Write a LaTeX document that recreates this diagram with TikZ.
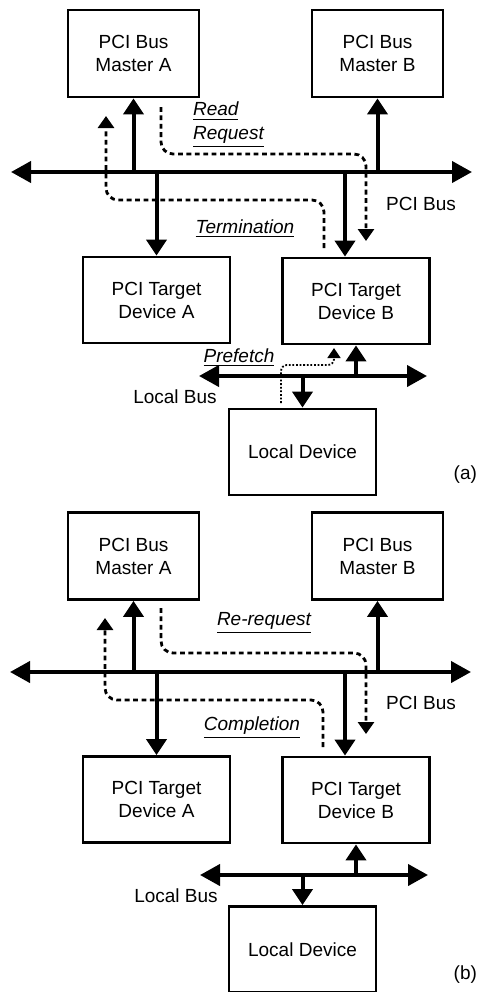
\documentclass[tikz,border=0pt]{standalone}
\usepackage{fontspec}
\setmainfont{Liberation Sans}
\usetikzlibrary{arrows.meta}

\tikzset{
    box/.style={draw, line width=1.4pt, align=center, inner sep=0pt,
        font=\fontsize{9.5}{11.5}\selectfont},
    master/.style={box, minimum width=65.5pt, minimum height=43.5pt},
    target/.style={box, minimum width=73.5pt, minimum height=43pt},
    bus/.style={line width=2pt, {Triangle[length=10pt,width=10.5pt]}-{Triangle[length=10pt,width=10.5pt]}},
    conn/.style={line width=2pt, -{Triangle[length=8pt,width=10pt]}},
    req/.style={line width=1.4pt, dash pattern=on 2.4pt off 1.8pt, rounded corners=6pt,
        -{Triangle[length=6pt,width=8pt]}},
    pref/.style={line width=0.9pt, dash pattern=on 0.9pt off 0.9pt, rounded corners=3pt,
        -{Triangle[length=5pt,width=6.5pt]}},
    txt/.style={font=\fontsize{9.5}{11.5}\selectfont},
    lbl/.style={font=\fontsize{9.5}{12}\selectfont\itshape, align=left}
}

\begin{document}
\begin{tikzpicture}[x=0.5pt, y=-0.5pt]
\useasboundingbox (0,0) rectangle (484,992);

% (a)
\node[master] (mAa) at (133.5,53.5) {PCI Bus\\Master A};
\node[master] (mBa) at (377.5,53.5) {PCI Bus\\Master B};
\node[target] (tAa) at (156.5,300) {PCI Target\\Device A};
\node[target] (tBa) at (356,301) {PCI Target\\Device B};
\node[target] (lda) at (302.5,452) {Local Device};

\coordinate (pciWa) at (11,172);
\coordinate (pciEa) at (472,172);
\coordinate (locWa) at (199,376);
\coordinate (locEa) at (427,376);
\draw[bus] (pciWa) -- (pciEa);
\draw[bus] (locWa) -- (locEa);

\draw[conn] (mAa.south |- pciWa) -- (mAa.south);
\draw[conn] (mBa.south |- pciWa) -- (mBa.south);
\draw[conn] (tAa.north |- pciWa) -- (tAa.north);
\draw[conn] ([xshift=-5.5pt]tBa.north |- pciWa) -- ([xshift=-5.5pt]tBa.north);
\draw[conn] (tBa.south |- locWa) -- (tBa.south);
\draw[conn] (lda.north |- locWa) -- (lda.north);

\coordinate (rqSa) at (161,107);
\coordinate (rqEa) at (366,241);
\coordinate (tmSa) at (324,248);
\coordinate (tmEa) at (106,116);
\coordinate (pfSa) at (281,403);
\coordinate (pfEa) at (334,348);
\draw[req] (rqSa) -- ++(0,47) -| (rqEa);
\draw[req] (tmSa) -- ++(0,-48) -| (tmEa);
\draw[pref] (pfSa) -- ++(0,-38) -| (pfEa);

\node[lbl, anchor=west] (rqLa) at (186,125) {\underline{Read}\\\underline{Request}};
\node[lbl] (tmLa) at (245,229) {\underline{Termination}};
\node[lbl] (pfLa) at (239,358) {\underline{Prefetch}};
\node[txt] (pciLa) at (421,204) {PCI Bus};
\node[txt] (locLa) at (175,397) {Local Bus};
\node[txt, anchor=east] (taga) at (484,475) {(a)};

% (b)
\node[master] (mAb) at (133.5,556) {PCI Bus\\Master A};
\node[master] (mBb) at (377.5,556) {PCI Bus\\Master B};
\node[target] (tAb) at (156.5,799.5) {PCI Target\\Device A};
\node[target] (tBb) at (356,800) {PCI Target\\Device B};
\node[target] (ldb) at (302.5,949.5) {Local Device};

\coordinate (pciWb) at (10,672);
\coordinate (pciEb) at (471,672);
\coordinate (locWb) at (200,875);
\coordinate (locEb) at (428,875);
\draw[bus] (pciWb) -- (pciEb);
\draw[bus] (locWb) -- (locEb);

\draw[conn] (mAb.south |- pciWb) -- (mAb.south);
\draw[conn] (mBb.south |- pciWb) -- (mBb.south);
\draw[conn] (tAb.north |- pciWb) -- (tAb.north);
\draw[conn] ([xshift=-5.5pt]tBb.north |- pciWb) -- ([xshift=-5.5pt]tBb.north);
\draw[conn] (tBb.south |- locWb) -- (tBb.south);
\draw[conn] (ldb.north |- locWb) -- (ldb.north);

\coordinate (rqSb) at (161,608);
\coordinate (rqEb) at (366,734);
\coordinate (tmSb) at (323,747);
\coordinate (tmEb) at (105,618);
\draw[req] (rqSb) -- ++(0,45) -| (rqEb);
\draw[req] (tmSb) -- ++(0,-47) -| (tmEb);

\node[lbl] (rqLb) at (264,623) {\underline{Re-request}};
\node[lbl] (cpLb) at (252,728) {\underline{Completion}};
\node[txt] (pciLb) at (421,703) {PCI Bus};
\node[txt] (locLb) at (176,896) {Local Bus};
\node[txt, anchor=east] (tagb) at (484,975) {(b)};

\end{tikzpicture}
\end{document}
